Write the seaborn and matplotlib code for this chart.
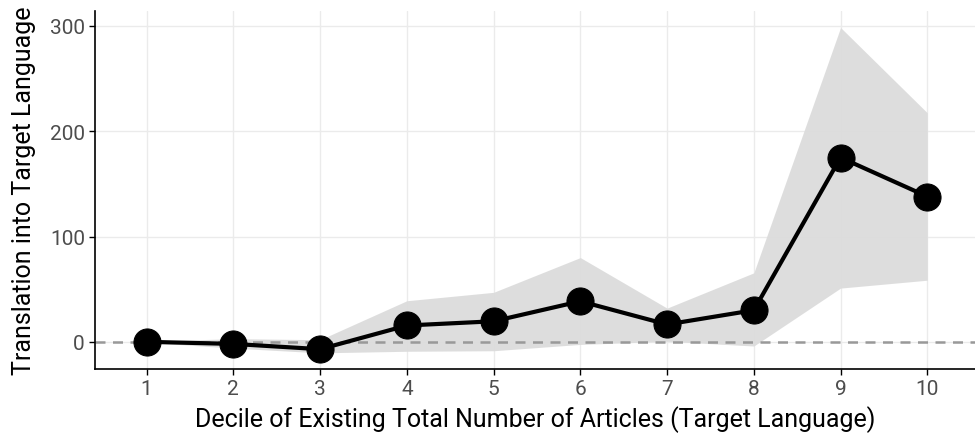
import numpy as np
import pandas as pd
import matplotlib
matplotlib.use("Agg")
import matplotlib.pyplot as plt
import seaborn as sns

# ==================== 数据 ====================
deciles = [1, 2, 3, 4, 5, 6, 7, 8, 9, 10]
estimate = [0, -2, -7, 15.5, 19.5, 38.5, 16.5, 30, 175, 138]
ci_low = [-0.5, -6, -10.5, -9, -8.5, -2.5, 0.5, -4, 51, 58.5]
ci_high = [0.5, 3, 2, 39, 47, 80, 32, 65.5, 298.5, 217.5]

x_label = "Decile of Existing Total Number of Articles (Target Language)"
y_label = "Translation into Target Language"

df = pd.DataFrame({"decile": deciles, "est": estimate,
                   "lo": ci_low, "hi": ci_high})

# ==================== 样式 ====================
sns.set_theme(style="whitegrid")
plt.rcParams["font.family"] = ["Roboto", "DejaVu Sans"]

fig = plt.figure(figsize=(9.75, 4.35), dpi=100)
ax = fig.add_axes([0.097, 0.149, 0.903, 0.823])

ax.fill_between(df["decile"], df["lo"], df["hi"], color="#dcdcdc",
                alpha=0.95, linewidth=0, zorder=1)
ax.axhline(0, color="#999999", linestyle=(0, (4, 3)), linewidth=1.8, zorder=2)
sns.lineplot(data=df, x="decile", y="est", color="black", linewidth=3,
             marker="o", markersize=19.5, markeredgecolor="black", ax=ax,
             zorder=3)

ax.set_xlim(0.4, 10.55)
ax.set_ylim(-26, 314)
ax.set_xticks(deciles)
ax.set_yticks([0, 100, 200, 300])
ax.set_xlabel(x_label, fontsize=18, color="black", labelpad=5)
ax.set_ylabel(y_label, fontsize=18, color="black", labelpad=10)
ax.tick_params(axis="both", labelsize=15, labelcolor="#4d4d4d",
               length=4, width=1, color="black", bottom=True, left=True,
               pad=3)

ax.grid(True, color="#ebebeb", linewidth=1)
ax.set_facecolor("white")
for side in ["top", "right"]:
    ax.spines[side].set_visible(False)
for side in ["left", "bottom"]:
    ax.spines[side].set_visible(True)
    ax.spines[side].set_color("black")
    ax.spines[side].set_linewidth(1.2)

fig.savefig("out.png", dpi=100)
